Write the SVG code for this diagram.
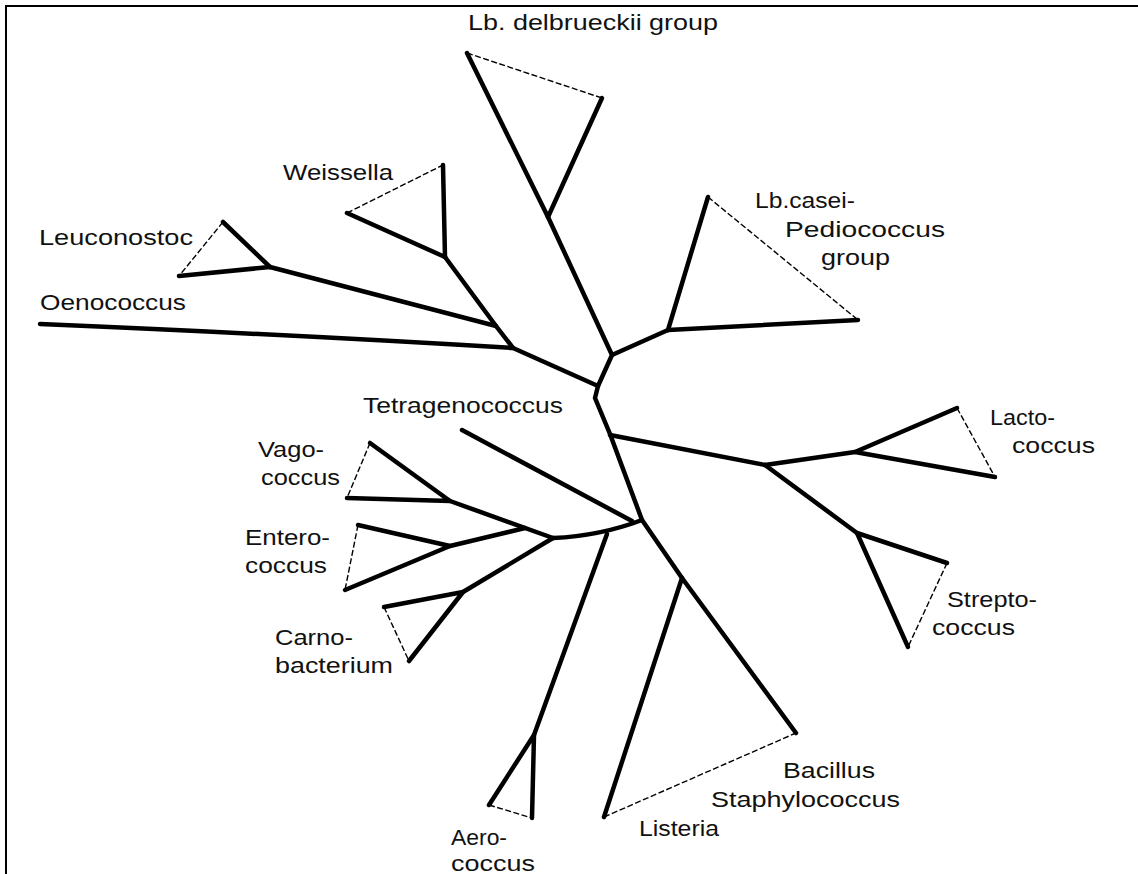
<svg xmlns="http://www.w3.org/2000/svg" width="1138" height="874" viewBox="0 0 1138 874">
<style>
.br{stroke:#000;stroke-width:4.5;fill:none;stroke-linecap:round;stroke-linejoin:round}
.tip{stroke:#000;stroke-width:1.4;fill:none;stroke-dasharray:6 2.5}
.frame{stroke:#000;stroke-width:2;fill:none}
.lbl{font-family:"Liberation Sans",Arial,Helvetica,sans-serif;font-size:22px;fill:#111}
</style>
<rect width="1138" height="874" fill="#fff"/>
<g id="frame"><path class="frame" d="M6,874 V6 H1138"/></g>
<g id="connectors">
<polyline class="br" points="548,217 612,355 598,386 595,398 610,434 642,520 682,578"/>
<polyline class="br" points="612,355 668,330"/>
<polyline class="br" points="270,267 496,326"/>
<polyline class="br" points="445,257 496,326 513,348 598,386"/>
<polyline class="br" points="610,435 765,465 855,452"/>
<polyline class="br" points="765,465 857,533"/>
<polyline class="br" points="450,501 553,538"/>
<polyline class="br" points="450,546 525,528"/>
<polyline class="br" points="463,592 553,538"/>
<path class="br" d="M553,538 Q600,536 642,520"/>
<polyline class="br" points="607,534 534,735"/>
</g>
<g id="delbrueckii">
<polyline class="br" points="467,53 548,217"/>
<polyline class="br" points="602,98 548,217"/>
<line class="tip" x1="467" y1="53" x2="602" y2="98"/>
<text class="lbl" x="468" y="30" textLength="250" lengthAdjust="spacingAndGlyphs">Lb. delbrueckii group</text>
</g>
<g id="weissella">
<polyline class="br" points="443,165 445,257"/>
<polyline class="br" points="347,213 445,257"/>
<line class="tip" x1="347" y1="213" x2="443" y2="165"/>
<text class="lbl" x="283" y="180" textLength="110" lengthAdjust="spacingAndGlyphs">Weissella</text>
</g>
<g id="leuconostoc">
<polyline class="br" points="223,222 270,267"/>
<polyline class="br" points="179,276 270,267"/>
<line class="tip" x1="223" y1="222" x2="179" y2="276"/>
<text class="lbl" x="39" y="245" textLength="154" lengthAdjust="spacingAndGlyphs">Leuconostoc</text>
</g>
<g id="oenococcus">
<path class="br" d="M40,324 Q300,335 513,348"/>
<text class="lbl" x="40" y="310" textLength="146" lengthAdjust="spacingAndGlyphs">Oenococcus</text>
</g>
<g id="casei">
<polyline class="br" points="708,197 668,330"/>
<polyline class="br" points="858,320 668,330"/>
<line class="tip" x1="708" y1="197" x2="858" y2="320"/>
<text class="lbl" x="755" y="208" textLength="100" lengthAdjust="spacingAndGlyphs">Lb.casei-</text>
<text class="lbl" x="785" y="237" textLength="160" lengthAdjust="spacingAndGlyphs">Pediococcus</text>
<text class="lbl" x="821" y="265" textLength="69" lengthAdjust="spacingAndGlyphs">group</text>
</g>
<g id="lactococcus">
<polyline class="br" points="957,408 855,452 995,477"/>
<line class="tip" x1="957" y1="408" x2="995" y2="477"/>
<text class="lbl" x="990" y="425" textLength="65" lengthAdjust="spacingAndGlyphs">Lacto-</text>
<text class="lbl" x="1012" y="453" textLength="83" lengthAdjust="spacingAndGlyphs">coccus</text>
</g>
<g id="streptococcus">
<polyline class="br" points="947,563 857,533 908,647"/>
<line class="tip" x1="947" y1="563" x2="908" y2="647"/>
<text class="lbl" x="947" y="607" textLength="90" lengthAdjust="spacingAndGlyphs">Strepto-</text>
<text class="lbl" x="932" y="635" textLength="83" lengthAdjust="spacingAndGlyphs">coccus</text>
</g>
<g id="bacillus-listeria">
<polyline class="br" points="604,817 682,578 796,733"/>
<line class="tip" x1="604" y1="817" x2="796" y2="733"/>
<text class="lbl" x="783" y="778" textLength="92" lengthAdjust="spacingAndGlyphs">Bacillus</text>
<text class="lbl" x="711" y="807" textLength="189" lengthAdjust="spacingAndGlyphs">Staphylococcus</text>
<text class="lbl" x="639" y="836" textLength="80" lengthAdjust="spacingAndGlyphs">Listeria</text>
</g>
<g id="aerococcus">
<polyline class="br" points="489,805 534,735 532,818"/>
<line class="tip" x1="489" y1="805" x2="532" y2="818"/>
<text class="lbl" x="451" y="845" textLength="56" lengthAdjust="spacingAndGlyphs">Aero-</text>
<text class="lbl" x="451" y="871" textLength="84" lengthAdjust="spacingAndGlyphs">coccus</text>
</g>
<g id="carnobacterium">
<polyline class="br" points="384,607 463,592 409,661"/>
<line class="tip" x1="384" y1="607" x2="409" y2="661"/>
<text class="lbl" x="275" y="645" textLength="78" lengthAdjust="spacingAndGlyphs">Carno-</text>
<text class="lbl" x="275" y="673" textLength="118" lengthAdjust="spacingAndGlyphs">bacterium</text>
</g>
<g id="enterococcus">
<polyline class="br" points="358,525 450,546 345,590"/>
<line class="tip" x1="358" y1="525" x2="345" y2="590"/>
<text class="lbl" x="245" y="545" textLength="85" lengthAdjust="spacingAndGlyphs">Entero-</text>
<text class="lbl" x="245" y="573" textLength="82" lengthAdjust="spacingAndGlyphs">coccus</text>
</g>
<g id="vagococcus">
<polyline class="br" points="370,443 450,501 347,498"/>
<line class="tip" x1="370" y1="443" x2="347" y2="498"/>
<text class="lbl" x="258" y="457" textLength="66" lengthAdjust="spacingAndGlyphs">Vago-</text>
<text class="lbl" x="261" y="485" textLength="79" lengthAdjust="spacingAndGlyphs">coccus</text>
</g>
<g id="tetragenococcus">
<polyline class="br" points="462,430 632,521"/>
<text class="lbl" x="363" y="413" textLength="200" lengthAdjust="spacingAndGlyphs">Tetragenococcus</text>
</g>
</svg>
